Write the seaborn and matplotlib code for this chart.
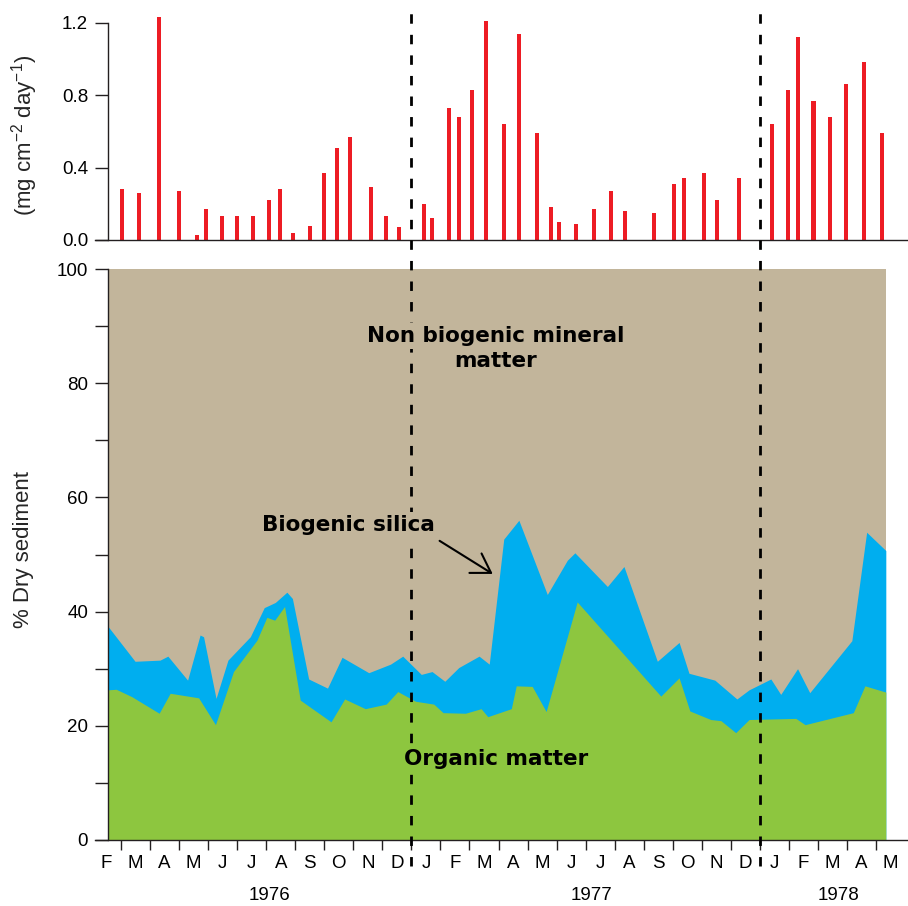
import matplotlib
matplotlib.use('Agg')
import matplotlib.pyplot as plt
import matplotlib.transforms as mtransforms
from matplotlib.lines import Line2D
import seaborn as sns

# time axis: months since 1 Jan 1976 (12 = 1 Jan 1977, 24 = 1 Jan 1978)
flux_month = [2.02, 2.62, 3.31, 4.01, 4.62, 4.94, 5.48, 6.00, 6.55, 7.10,
              7.47, 7.92, 8.51, 8.98, 9.45, 9.87, 10.62, 11.11, 11.58, 12.44,
              12.71, 13.28, 13.64, 14.10, 14.58, 15.20, 15.72, 16.33, 16.80, 17.07,
              17.68, 18.29, 18.87, 19.36, 20.34, 21.04, 21.40, 22.07, 22.54, 23.27,
              24.41, 24.96, 25.31, 25.85, 26.42, 26.98, 27.60, 28.20]
flux = [0.28, 0.26, 1.23, 0.27, 0.03, 0.17, 0.13, 0.13, 0.13, 0.22,
        0.28, 0.04, 0.08, 0.37, 0.51, 0.57, 0.29, 0.13, 0.07, 0.20,
        0.12, 0.73, 0.68, 0.83, 1.21, 0.64, 1.14, 0.59, 0.18, 0.10,
        0.09, 0.17, 0.27, 0.16, 0.15, 0.31, 0.34, 0.37, 0.22, 0.34,
        0.64, 0.83, 1.12, 0.77, 0.68, 0.86, 0.98, 0.59]

# organic matter (% dry sediment)
organic_month = [1.55, 1.83, 2.37, 3.31, 3.69, 4.67, 5.25, 5.87, 6.68, 7.02,
                 7.29, 7.63, 8.17, 9.23, 9.70, 10.41, 11.13, 11.53, 12.14, 12.77,
                 13.09, 13.86, 14.40, 14.63, 15.44, 15.61, 16.16, 16.64, 17.71, 20.59,
                 21.22, 21.59, 22.31, 22.66, 23.17, 23.63, 25.24, 25.56, 27.22, 27.62,
                 28.34]
organic = [26.3, 26.4, 25.1, 22.2, 25.7, 24.9, 20.2, 29.5, 35.0, 39.0,
           38.5, 40.9, 24.5, 20.7, 24.7, 23.0, 23.8, 26.0, 24.3, 23.8,
           22.3, 22.2, 23.0, 21.6, 23.0, 27.0, 26.9, 22.5, 41.7, 25.2,
           28.4, 22.6, 21.1, 20.9, 18.8, 21.1, 21.3, 20.2, 22.3, 27.0,
           25.9]

# organic matter + biogenic silica (cumulative %)
silica_month = [1.55, 2.48, 3.34, 3.61, 4.29, 4.72, 4.84, 5.27, 5.68, 6.45,
                6.93, 7.31, 7.71, 7.90, 8.46, 9.11, 9.61, 10.53, 11.28, 11.70,
                12.34, 12.71, 13.15, 13.63, 14.33, 14.68, 15.18, 15.70, 16.68, 17.37,
                17.63, 18.75, 19.32, 20.47, 21.22, 21.56, 22.45, 23.21, 23.63, 24.38,
                24.72, 25.30, 25.72, 27.17, 27.68, 28.34]
organic_plus_silica = [37.4, 31.3, 31.5, 32.2, 28.0, 35.9, 35.6, 24.8, 31.5, 35.6,
                       40.7, 41.6, 43.4, 42.3, 28.2, 26.6, 32.0, 29.3, 30.8, 32.2,
                       29.0, 29.5, 27.8, 30.2, 32.2, 30.8, 52.7, 56.0, 43.0, 49.0,
                       50.3, 44.4, 47.9, 31.3, 34.6, 29.2, 28.0, 24.7, 26.3, 28.2,
                       25.5, 30.0, 25.8, 34.9, 53.9, 50.7]

series_span = [1.55, 28.34]
month_labels = ['F', 'M', 'A', 'M', 'J', 'J', 'A', 'S', 'O', 'N', 'D',
                'J', 'F', 'M', 'A', 'M', 'J', 'J', 'A', 'S', 'O', 'N', 'D',
                'J', 'F', 'M', 'A', 'M']
year_labels = ['1976', '1977', '1978']
year_pos = [7.1, 18.2, 26.7]
year_breaks = [12, 24]

TAN = '#C2B59B'
BLUE = '#00AEEF'
GREEN = '#8DC63F'
RED = '#ED1C24'
INK = '#231f20'

sns.set_theme(style='ticks')
plt.rcParams['font.family'] = ['Liberation Sans', 'DejaVu Sans']
plt.rcParams['mathtext.default'] = 'regular'
plt.rcParams['axes.edgecolor'] = INK
plt.rcParams['axes.linewidth'] = 1.0

fig = plt.figure(figsize=(9.08, 9.06), dpi=100)
ax_top = fig.add_axes([0.1046, 0.7351, 0.8943, 0.2539])
ax = fig.add_axes([0.1046, 0.07285, 0.8943, 0.6302])
xmin, xmax = 1.10, 29.07
spine_x = series_span[0]

# top panel: flux bars
ax_top.bar(flux_month, flux, width=0.14, color=RED, linewidth=0)
ax_top.set_xlim(xmin, xmax)
ax_top.set_ylim(0, 1.27)
sns.despine(ax=ax_top)
ax_top.spines['left'].set_position(('data', spine_x))
ax_top.spines['left'].set_bounds(0, 1.2)
ax_top.set_xticks([])
ax_top.set_yticks([0, 0.4, 0.8, 1.2])
ax_top.set_yticklabels(['0.0', '0.4', '0.8', '1.2'])
ax_top.tick_params(axis='y', length=9.4, width=1, pad=5, labelsize=13.5,
                   colors=INK, labelcolor='black')
ax_top.patch.set_alpha(0)

# bottom panel: composition
ax.fill_between(series_span, 0, 100, color=TAN, linewidth=0)
ax.fill_between(silica_month, 0, organic_plus_silica, color=BLUE, linewidth=0)
ax.fill_between(organic_month, 0, organic, color=GREEN, linewidth=0)
ax.set_xlim(xmin, xmax)
ax.set_ylim(0, 100)
sns.despine(ax=ax)
ax.spines['left'].set_position(('data', spine_x))
ax.spines['left'].set_bounds(0, 100)
ax.set_yticks(range(0, 101, 20))
ax.set_yticks(range(10, 100, 20), minor=True)
ax.tick_params(axis='y', which='both', length=9.4, width=1, pad=5,
               labelsize=13.5, colors=INK, labelcolor='black')
ax.set_xticks(range(2, 29))
ax.set_xticklabels([])
ax.set_xticks([i + 1.5 for i in range(len(month_labels))], minor=True)
ax.set_xticklabels(month_labels, minor=True)
ax.tick_params(axis='x', which='major', length=7.2, width=1, colors=INK)
ax.tick_params(axis='x', which='minor', length=0, pad=11, labelsize=13.5,
               labelcolor='black')
ax.set_axisbelow(False)

tx = mtransforms.blended_transform_factory(ax.transData, ax.transAxes)
for lab, pos in zip(year_labels, year_pos):
    ax.text(pos, -0.098, lab, transform=tx, ha='center', va='center',
            fontsize=13.5, color='black')

# year boundaries running through both panels
tf = mtransforms.blended_transform_factory(ax.transData, fig.transFigure)
for xb in year_breaks:
    fig.add_artist(Line2D([xb, xb], [1 - 866 / 906, 1 - 10 / 906], transform=tf,
                          color='black', lw=2.0, linestyle=(0, (3.4, 4.0)),
                          zorder=1))

# area labels sit on top of the dashed lines, masking them
bold = dict(family=['DejaVu Sans'], fontweight='bold', fontsize=15.5,
            ha='center', va='center', color='black', transform=ax.transData,
            zorder=3)
fig.text(14.90, 88.3, 'Non biogenic mineral',
         bbox=dict(facecolor=TAN, edgecolor='none', boxstyle='square,pad=0.15'),
         **bold)
fig.text(14.90, 83.9, 'matter', **bold)
fig.text(9.83, 55.1, 'Biogenic silica',
         bbox=dict(facecolor=TAN, edgecolor='none', boxstyle='square,pad=0.15'),
         **bold)
fig.text(14.92, 14.2, 'Organic matter',
         bbox=dict(facecolor=GREEN, edgecolor='none', boxstyle='square,pad=0.15'),
         **bold)
ax.annotate('', xy=(14.80, 46.6), xytext=(12.97, 52.4),
            arrowprops=dict(arrowstyle='->, head_length=0.4, head_width=0.25',
                            lw=1.5, color='black', mutation_scale=33,
                            shrinkA=0, shrinkB=0))

fig.text(25 / 908, 1 - 135 / 906, '(mg cm$^{-2}$ day$^{-1}$)', rotation=90,
         ha='center', va='center', fontsize=16)
fig.text(24 / 908, 1 - 549 / 906, '% Dry sediment', rotation=90,
         ha='center', va='center', fontsize=16)

fig.savefig('out.png', dpi=100)
